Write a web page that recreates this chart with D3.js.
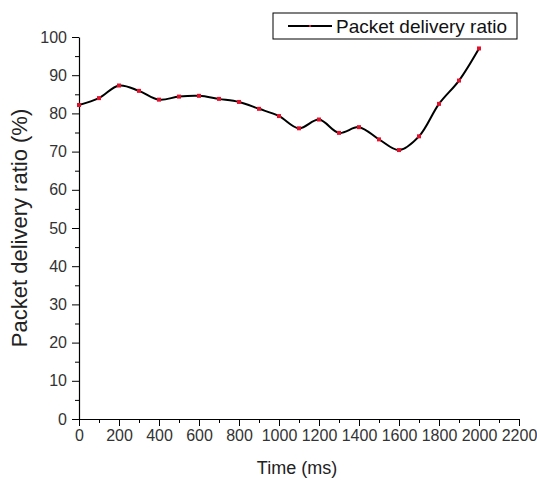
<!DOCTYPE html>
<html>
<head>
<meta charset="utf-8">
<script src="https://cdn.jsdelivr.net/npm/d3@7"></script>
<style>
  body { margin: 0; background: #fff; }
  svg { font-family: Arial, "Liberation Sans", sans-serif; }
  .tick text { fill: #333; }
</style>
</head>
<body>
<div id="chart"></div>
<script>
const width = 537;
const height = 482;

// Data
const times = [0, 100, 200, 300, 400, 500, 600, 700, 800, 900, 1000,
  1100, 1200, 1300, 1400, 1500, 1600, 1700, 1800, 1900, 2000];
const pdr = [82.2, 84.0, 87.3, 85.9, 83.6, 84.4, 84.6, 83.8, 83.0, 81.2, 79.3,
  76.1, 78.4, 74.9, 76.4, 73.2, 70.4, 74.0, 82.5, 88.6, 97.0];
const xTicks = d3.range(0, 2201, 200);
const yTicks = d3.range(0, 101, 10);
const seriesName = "Packet delivery ratio";

const margin = { top: 37, right: 18, bottom: 63, left: 79 };

const svg = d3.select("#chart")
  .append("svg")
  .attr("width", width)
  .attr("height", height);

const x = d3.scaleLinear()
  .domain([0, 2200])
  .range([margin.left, width - margin.right]);

const y = d3.scaleLinear()
  .domain([0, 100])
  .range([height - margin.bottom, margin.top]);

// minor ticks first, then major ones on top
svg.append("g")
  .attr("transform", `translate(0,${y(0)})`)
  .call(d3.axisBottom(x).tickValues(d3.range(100, 2200, 200)).tickSize(4).tickFormat(""))
  .call(g => g.select(".domain").remove());

svg.append("g")
  .attr("transform", `translate(${x(0)},0)`)
  .call(d3.axisLeft(y).tickValues(d3.range(5, 100, 10)).tickSize(4).tickFormat(""))
  .call(g => g.select(".domain").remove());

const xAxis = svg.append("g")
  .attr("transform", `translate(0,${y(0)})`)
  .call(d3.axisBottom(x).tickValues(xTicks).tickFormat(d3.format("d"))
    .tickSize(7).tickSizeOuter(0).tickPadding(4));

const yAxis = svg.append("g")
  .attr("transform", `translate(${x(0)},0)`)
  .call(d3.axisLeft(y).tickValues(yTicks).tickFormat(d3.format("d"))
    .tickSize(7).tickSizeOuter(0).tickPadding(5));

[xAxis, yAxis].forEach(a => {
  a.selectAll("text").attr("font-size", 16);
  a.select(".domain").attr("stroke-width", 1.2);
});

// axis titles
svg.append("text")
  .attr("x", (x(0) + x(2200)) / 2 - 2)
  .attr("y", 474)
  .attr("text-anchor", "middle")
  .attr("font-size", 18)
  .attr("fill", "#222")
  .text("Time (ms)");

svg.append("text")
  .attr("transform", `translate(27,${(y(0) + y(100)) / 2}) rotate(-90)`)
  .attr("text-anchor", "middle")
  .attr("font-size", 22)
  .attr("fill", "#222")
  .text("Packet delivery ratio (%)");

// smoothed line
const data = times.map((t, i) => ({ t, v: pdr[i] }));

const line = d3.line()
  .x(d => x(d.t))
  .y(d => y(d.v))
  .curve(d3.curveCatmullRom.alpha(0.5));

svg.append("path")
  .datum(data)
  .attr("fill", "none")
  .attr("stroke", "#000")
  .attr("stroke-width", 2)
  .attr("d", line);

svg.selectAll(".pt")
  .data(data)
  .enter()
  .append("rect")
  .attr("class", "pt")
  .attr("x", d => x(d.t) - 2)
  .attr("y", d => y(d.v) - 2)
  .attr("width", 4)
  .attr("height", 4)
  .attr("fill", "#e3102c");

// legend
const legend = svg.append("g").attr("transform", "translate(273,13)");

legend.append("rect")
  .attr("width", 244)
  .attr("height", 26)
  .attr("fill", "#fff")
  .attr("stroke", "#000");

legend.append("line")
  .attr("x1", 15).attr("x2", 59)
  .attr("y1", 13).attr("y2", 13)
  .attr("stroke", "#000")
  .attr("stroke-width", 2);

legend.append("rect")
  .attr("x", 36).attr("y", 12)
  .attr("width", 2).attr("height", 2)
  .attr("fill", "#e3102c");

legend.append("text")
  .attr("x", 63)
  .attr("y", 20)
  .attr("font-size", 19)
  .attr("fill", "#111")
  .text(seriesName);
</script>
</body>
</html>
